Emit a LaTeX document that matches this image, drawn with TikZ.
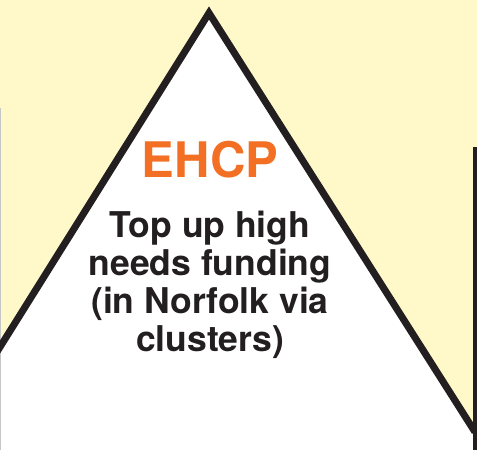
\documentclass[tikz,border=0pt]{standalone}
\usepackage{fontspec}
\setmainfont{TeX Gyre Heros}
\definecolor{paleyellow}{HTML}{FFF9CA}
\definecolor{ehcporange}{HTML}{F26F23}
\definecolor{inkblack}{HTML}{231F20}
\begin{document}
\begin{tikzpicture}[x=1pt, y=1pt]
\tikzstyle{every node}=[inner sep=0pt, align=center, font=\bfseries]
\tikzstyle{edge}=[draw=inkblack, line width=7pt, line join=miter]
\useasboundingbox (0,0) rectangle (477,450);
\clip (0,0) rectangle (477,450);
\fill[paleyellow] (0,0) rectangle (477,450);
\coordinate (apex) at (209,437);
\coordinate (left) at (-20,71);
\coordinate (right) at (475,18);
\coordinate (posttop) at (475,303);
\coordinate (postfoot) at (475,-5);
\coordinate (rimtop) at (0.6,342);
\coordinate (rimfoot) at (0.6,-5);
% white face of the triangle, open at the bottom
\fill[white] (apex) -- (left) -- (-20,-10) -- (475,-10) -- (right) -- cycle;
\draw[gray!45, line width=0.8pt] (rimtop) -- (rimfoot);
\draw[edge] (left) -- (apex) -- (right);
\draw[inkblack, line width=5pt] (posttop) -- (postfoot);
% labels
\node[anchor=base, text=ehcporange, font=\bfseries\fontsize{49}{49}\selectfont] (ehcp) at (210,272) {EHCP};
\node[anchor=base, text=inkblack, font=\bfseries\fontsize{35.5}{38}\selectfont] (funding) at (210,98)
  {Top up high\\needs funding\\(in Norfolk via\\clusters)};
\end{tikzpicture}
\end{document}
